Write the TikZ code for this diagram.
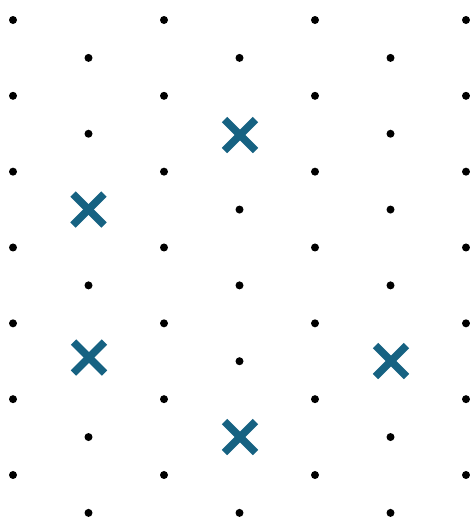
\documentclass[tikz,border=0pt]{standalone}
\usetikzlibrary{calc}
\definecolor{crossblue}{RGB}{22,98,130}
\begin{document}
\begin{tikzpicture}[x=1pt,y=-1pt,
  latdot/.style={circle,fill=black,inner sep=0pt,minimum size=8pt},
  crossmark/.style={draw=crossblue,line width=7.5pt}]
\useasboundingbox (0,0) rectangle (470,520);
\foreach \i in {0,...,6}{
  \foreach \j in {0,...,6}{
    \pgfmathsetmacro{\xx}{13+75.5*\i}
    \pgfmathsetmacro{\yy}{20+75.83*\j+37.9*mod(\i,2)}
    \ifnum\i\j=31 \else\ifnum\i\j=12 \else\ifnum\i\j=14 \else\ifnum\i\j=54 \else\ifnum\i\j=35 \else
      \node[latdot] (d-\i-\j) at (\xx,\yy) {};
    \fi\fi\fi\fi\fi
  }
}
\foreach \n/\cx/\cy in {c1/240/135, c2/88.5/209.5, c3/89/357.5, c4/391/361, c5/240/437}{
  \coordinate (\n) at (\cx,\cy);
  \draw[crossmark] ($(\n)+(-15.5,-15.5)$) -- ($(\n)+(15.5,15.5)$);
  \draw[crossmark] ($(\n)+(-15.5,15.5)$) -- ($(\n)+(15.5,-15.5)$);
}
\end{tikzpicture}
\end{document}
